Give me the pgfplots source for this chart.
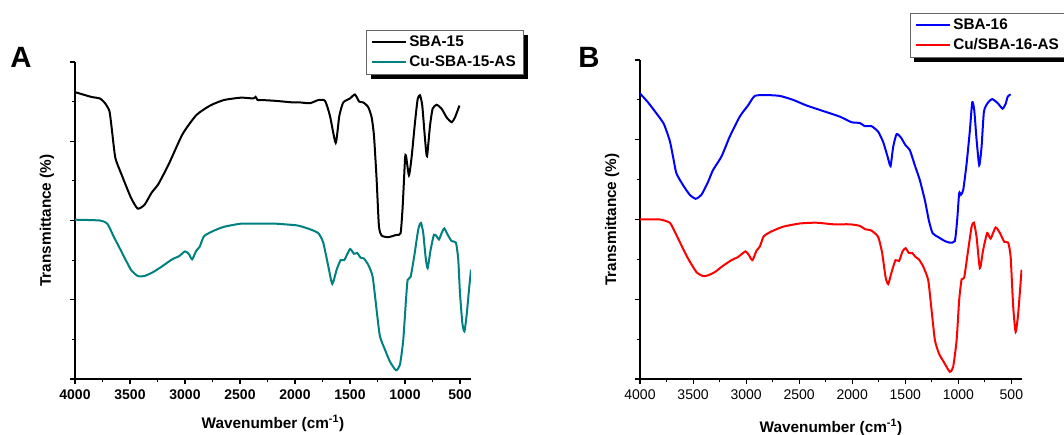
\documentclass[border=0pt]{standalone}
\usepackage{pgfplots}
\pgfplotsset{compat=1.18}
\usepackage{fontspec}
\setmainfont{Liberation Sans}

\pgfdeclarelayer{background}
\pgfsetlayers{background,main}

\definecolor{cuteal}{RGB}{0,128,128}

\pgfplotsset{
  ftir/.style={
    scale only axis,
    axis x line*=bottom, axis y line*=left,
    x dir=reverse,
    xmin=400, xmax=4000, ymin=0, ymax=4,
    xtick={4000,3500,3000,2500,2000,1500,1000,500},
    xticklabels={4000,3500,3000,2500,2000,1500,1000,500},
    minor x tick num=1,
    ytick={0,1,2,3,4}, yticklabels={},
    minor y tick num=1,
    tick align=outside,
    major tick length=3.5pt, minor tick length=2.5pt,
    axis line style={line width=0.8pt, black},
    tick style={line width=0.8pt, black},
    xticklabel style={font=\fontsize{10.5}{12}\selectfont, yshift=-1pt},
    xlabel={Wavenumber (cm\textsuperscript{-1})},
    ylabel={Transmittance (\%)},
    label style={font=\bfseries\fontsize{11.5}{13}\selectfont},
    legend cell align=left,
    legend image code/.code={\draw[#1, line width=1.6pt] (0pt,0pt) -- (25pt,0pt);},
    legend style={draw=black!60, line width=0.6pt, fill=white,
      font=\bfseries\fontsize{11.5}{13}\selectfont,
      anchor=north west, row sep=1.6pt, inner xsep=3.5pt, inner ysep=2pt},
  },
  spec/.style={line width=1.5pt, smooth, tension=0.35, no marks},
}

\begin{document}
\begin{tikzpicture}
\useasboundingbox (0,0) rectangle (798pt,326.25pt);
\clip (0,0) rectangle (798pt,326.25pt);

% ---- panel A ----
\begin{axis}[ftir,
    at={(56.25pt,42pt)}, anchor=south west,
    width=297pt, height=237.75pt,
    xticklabel style={font=\bfseries\fontsize{10.5}{12}\selectfont},
    xlabel style={at={(axis description cs:0.5,0)}, anchor=center, yshift=-33.5pt},
    ylabel style={at={(axis description cs:-0.071,0.5)}, anchor=center},
    legend style={at={(axis description cs:0.735,1.101)}, name=legA},
  ]
\addplot[spec, black] coordinates {
 (4000,3.62)(3853,3.56)(3774,3.54)(3727,3.48)(3687,3.38)(3665,3.15)(3633,2.79)
 (3571,2.56)(3492,2.29)(3430,2.15)(3367,2.20)(3304,2.35)(3242,2.46)(3148,2.71)
 (3022,3.09)(2897,3.33)(2772,3.45)(2647,3.52)(2490,3.55)(2380,3.54)(2358,3.56)
 (2340,3.52)(2302,3.52)(2177,3.51)(2020,3.49)(1955,3.49)(1864,3.48)(1788,3.52)
 (1727,3.51)(1682,3.32)(1630,2.98)(1597,3.32)(1561,3.49)(1500,3.54)(1455,3.59)
 (1416,3.50)(1379,3.49)(1334,3.43)(1303,3.30)(1282,3.07)(1258,2.52)(1237,1.93)
 (1212,1.81)(1152,1.79)(1076,1.82)(1040,1.84)(1021,2.18)(1000,2.77)(991,2.82)
 (964,2.57)(939,2.81)(909,3.24)(885,3.53)(864,3.58)(843,3.45)(818,3.03)(800,2.81)
 (773,3.19)(749,3.41)(712,3.46)(667,3.41)(621,3.30)(576,3.24)(546,3.30)(505,3.45)
};
\addlegendentry{SBA-15}
\addplot[spec, cuteal] coordinates {
 (4000,2.01)(3774,2.00)(3706,1.96)(3649,1.80)(3571,1.59)(3492,1.38)(3430,1.30)
 (3367,1.30)(3289,1.35)(3210,1.42)(3117,1.51)(3054,1.55)(3001,1.61)(2966,1.58)
 (2935,1.51)(2897,1.62)(2866,1.67)(2828,1.80)(2756,1.86)(2647,1.92)(2490,1.96)
 (2333,1.96)(2177,1.96)(1989,1.94)(1955,1.93)(1864,1.89)(1788,1.84)(1743,1.72)
 (1697,1.42)(1661,1.20)(1621,1.38)(1585,1.50)(1552,1.50)(1500,1.64)(1464,1.58)
 (1434,1.59)(1403,1.53)(1373,1.52)(1334,1.44)(1294,1.29)(1258,0.87)(1228,0.54)
 (1182,0.37)(1137,0.22)(1082,0.11)(1046,0.18)(1016,0.49)(991,1.00)(976,1.25)
 (949,1.29)(916,1.55)(879,1.89)(855,1.97)(834,1.84)(812,1.53)(794,1.40)(767,1.63)
 (737,1.82)(712,1.80)(691,1.76)(667,1.84)(643,1.90)(612,1.82)(576,1.74)(537,1.72)
 (516,1.51)(500,1.08)(478,0.70)(460,0.60)(440,0.80)(420,1.10)(400,1.38)
};
\addlegendentry{Cu-SBA-15-AS}
\end{axis}

% ---- panel B ----
\begin{axis}[ftir,
    at={(480pt,42pt)}, anchor=south west,
    width=286.5pt, height=239.25pt,
    xlabel style={at={(axis description cs:0.5,0)}, anchor=center, yshift=-36.5pt},
    ylabel style={at={(axis description cs:-0.073,0.5)}, anchor=center},
    legend style={at={(axis description cs:0.707,1.148)}, name=legB},
  ]
\addplot[spec, blue] coordinates {
 (4000,3.58)(3925,3.47)(3845,3.33)(3776,3.20)(3720,2.99)(3689,2.79)(3657,2.58)
 (3594,2.43)(3531,2.31)(3475,2.26)(3421,2.31)(3359,2.47)(3312,2.62)(3232,2.79)
 (3154,3.04)(3060,3.29)(2982,3.43)(2918,3.55)(2808,3.56)(2683,3.55)(2557,3.50)
 (2431,3.43)(2274,3.36)(2117,3.29)(2007,3.22)(1928,3.21)(1881,3.17)(1818,3.17)
 (1755,3.10)(1708,2.97)(1667,2.79)(1639,2.67)(1614,2.91)(1582,3.07)(1542,3.03)
 (1497,2.93)(1457,2.87)(1410,2.68)(1362,2.49)(1315,2.24)(1278,1.99)(1243,1.83)
 (1190,1.78)(1127,1.73)(1080,1.71)(1033,1.73)(1011,1.99)(992,2.33)(976,2.31)
 (954,2.37)(922,2.70)(891,3.12)(869,3.47)(850,3.37)(828,3.00)(803,2.68)(781,2.91)
 (759,3.35)(724,3.46)(681,3.51)(630,3.46)(583,3.39)(554,3.45)(535,3.54)(507,3.57)
};
\addlegendentry{SBA-16}
\addplot[spec, red] coordinates {
 (4000,2.00)(3814,2.00)(3720,1.96)(3673,1.85)(3626,1.72)(3547,1.51)(3468,1.34)
 (3406,1.29)(3359,1.30)(3296,1.34)(3217,1.42)(3138,1.49)(3076,1.53)(3006,1.60)
 (2972,1.55)(2940,1.49)(2902,1.61)(2871,1.66)(2833,1.79)(2761,1.85)(2651,1.91)
 (2494,1.95)(2337,1.96)(2180,1.94)(2023,1.94)(1928,1.92)(1881,1.88)(1818,1.86)
 (1755,1.78)(1718,1.58)(1686,1.28)(1661,1.19)(1629,1.34)(1592,1.49)(1558,1.48)
 (1526,1.60)(1497,1.64)(1466,1.58)(1435,1.58)(1403,1.53)(1372,1.50)(1331,1.41)
 (1284,1.24)(1252,0.86)(1221,0.49)(1183,0.32)(1127,0.19)(1080,0.09)(1049,0.15)
 (1016,0.49)(992,0.99)(969,1.25)(945,1.27)(907,1.62)(875,1.91)(853,1.96)(828,1.78)
 (797,1.39)(766,1.62)(728,1.83)(696,1.76)(649,1.90)(608,1.83)(567,1.72)(530,1.71)
 (507,1.53)(483,0.91)(460,0.59)(436,0.82)(404,1.37)
};
\addlegendentry{Cu/SBA-16-AS}
\end{axis}

% legend shadows
\begin{pgfonlayer}{background}
\fill[black] ([shift={(3.5pt,-3.5pt)}]legA.south west) rectangle ([shift={(3.5pt,-3.5pt)}]legA.north east);
\fill[black] ([shift={(3pt,-3pt)}]legB.south west) rectangle ([shift={(3pt,-3pt)}]legB.north east);
\end{pgfonlayer}

\node[font=\bfseries\fontsize{22}{24}\selectfont] at (15.75pt,283.5pt) {A};
\node[font=\bfseries\fontsize{22}{24}\selectfont] at (441.75pt,283.5pt) {B};
\end{tikzpicture}
\end{document}
